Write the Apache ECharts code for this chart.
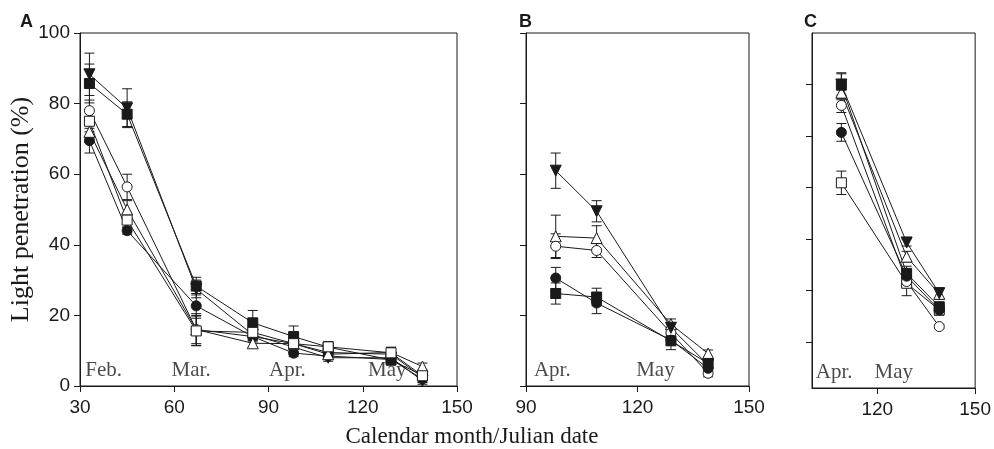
<!DOCTYPE html>
<html>
<head>
<meta charset="utf-8">
<script src="https://cdn.jsdelivr.net/npm/echarts@6/dist/echarts.min.js"></script>
<style>
  html, body { margin: 0; padding: 0; background: #fff; }
  #chart { width: 994px; height: 449px; }
</style>
</head>
<body>
<div id="chart"></div>
<script>
// julian days sampled in each panel
var daysA = [33, 45, 67, 85, 98, 109, 129, 139];
var daysB = [98, 109, 129, 139];
var daysC = [109, 129, 139];

// panel A: means and error (+/-)
var aDownTri = [88.3, 78.7, 27.5, 14.5, 11.0, 8.0, 8.0, 1.5];
var aDownTriErr = [6, 5.5, 2.5, 1.5, 1.5, 1, 1.5, 1];
var aFillSq = [85.7, 77.0, 28.3, 17.9, 14.0, 11.0, 7.4, 3.0];
var aFillSqErr = [5.5, 3.5, 2.5, 3.5, 3, 1.5, 1.5, 1];
var aOpenCirc = [78.0, 56.4, 16.0, 14.0, 12.0, 9.5, 9.0, 2.5];
var aOpenCircErr = [3, 3.6, 4.5, 1.5, 1.5, 1.5, 1.5, 1];
var aOpenSq = [75.0, 47.0, 15.6, 15.2, 12.0, 11.1, 9.4, 2.9];
var aOpenSqErr = [3, 2, 4.2, 1.5, 1.5, 1.5, 1.5, 1];
var aOpenTri = [72.0, 50.0, 16.0, 12.1, 12.0, 9.0, 9.5, 5.5];
var aOpenTriErr = [3, 2.5, 4, 1, 1.5, 1, 1.5, 1];
var aFillCirc = [69.5, 44.0, 22.7, 14.0, 9.3, 8.5, 7.5, 2.0];
var aFillCircErr = [3.5, 1, 3.5, 1, 1, 1, 1, 1];

// panel B
var bDownTri = [61.0, 49.5, 16.5, 6.0];
var bDownTriErr = [5, 3, 1.5, 1];
var bOpenTri = [42.4, 41.9, 17.5, 9.2];
var bOpenTriErr = [6, 3.5, 1.5, 1];
var bOpenCirc = [39.6, 38.4, 15.0, 3.6];
var bOpenCircErr = [3.5, 2, 1.5, 1];
var bFillCirc = [30.6, 23.5, 13.0, 5.0];
var bFillCircErr = [3, 3, 1.5, 1];
var bFillSq = [26.2, 25.2, 12.8, 6.4];
var bFillSqErr = [3, 2.5, 2.5, 1.5];

// panel C
var cDownTri = [85.5, 41.0, 26.7];
var cDownTriErr = [3, 1, 1.5];
var cFillSq = [85.3, 32.3, 22.9];
var cFillSqErr = [3.5, 2, 1];
var cOpenTri = [83.2, 37.0, 26.5];
var cOpenTriErr = [2, 1.5, 1.5];
var cOpenCirc = [79.6, 30.0, 17.3];
var cOpenCircErr = [2, 1.5, 0.5];
var cFillCirc = [72.0, 31.5, 22.0];
var cFillCircErr = [2.5, 1.5, 1];
var cOpenSq = [57.8, 29.5, 22.0];
var cOpenSqErr = [3.3, 3.5, 1.5];

// month labels (left edge at the day given)
var monthDaysA = [31.5, 59, 90, 121.5], monthNamesA = ['Feb.', 'Mar.', 'Apr.', 'May'];
var monthDaysB = [92, 119.5], monthNamesB = ['Apr.', 'May'];
var monthDaysC = [101, 119], monthNamesC = ['Apr.', 'May'];

// tick positions of panel C
var xTicksC = [120, 150];
var yTicksC = [13, 27.5, 42, 56.5, 71, 85.5];

var ink = '#1a1a1a', serif = '"Liberation Serif", "DejaVu Serif", serif', sans = '"Liberation Sans", Arial, sans-serif';

var markers = {
  downTri: {symbol: 'triangle', rotate: 180, size: 11, fill: ink},
  fillSq: {symbol: 'rect', rotate: 0, size: 10, fill: ink},
  openCirc: {symbol: 'circle', rotate: 0, size: 10, fill: '#fff'},
  openSq: {symbol: 'rect', rotate: 0, size: 10, fill: '#fff'},
  openTri: {symbol: 'triangle', rotate: 0, size: 11, fill: '#fff'},
  fillCirc: {symbol: 'circle', rotate: 0, size: 10, fill: ink}
};

// later entries are drawn on top
var panels = [
  {days: daysA, months: monthDaysA, names: monthNamesA, sets: [
    ['openCirc', aOpenCirc, aOpenCircErr], ['fillCirc', aFillCirc, aFillCircErr], ['downTri', aDownTri, aDownTriErr],
    ['fillSq', aFillSq, aFillSqErr], ['openTri', aOpenTri, aOpenTriErr], ['openSq', aOpenSq, aOpenSqErr]
  ]},
  {days: daysB, months: monthDaysB, names: monthNamesB, sets: [
    ['openTri', bOpenTri, bOpenTriErr], ['openCirc', bOpenCirc, bOpenCircErr], ['fillCirc', bFillCirc, bFillCircErr],
    ['fillSq', bFillSq, bFillSqErr], ['downTri', bDownTri, bDownTriErr]
  ]},
  {days: daysC, months: monthDaysC, names: monthNamesC, sets: [
    ['openSq', cOpenSq, cOpenSqErr], ['openCirc', cOpenCirc, cOpenCircErr], ['fillCirc', cFillCirc, cFillCircErr],
    ['openTri', cOpenTri, cOpenTriErr], ['downTri', cDownTri, cDownTriErr], ['fillSq', cFillSq, cFillSqErr]
  ]}
];

function renderErrBar(params, api){
  var x = api.value(0),
    lo = api.coord([x, api.value(1)]),
    hi = api.coord([x, api.value(2)]),
    w = 5, st = {stroke: ink, lineWidth: 1};
  return {
    type: 'group',
    children: [
      {type: 'line', shape: {x1: lo[0], y1: lo[1], x2: hi[0], y2: hi[1]}, style: st},
      {type: 'line', shape: {x1: lo[0] - w, y1: lo[1], x2: lo[0] + w, y2: lo[1]}, style: st},
      {type: 'line', shape: {x1: hi[0] - w, y1: hi[1], x2: hi[0] + w, y2: hi[1]}, style: st}
    ]
  };
}

function axisX(i, min, max){
  return {
    type: 'value', gridIndex: i, min: min, max: max, interval: 30,
    axisLine: {lineStyle: {color: ink, width: 1}},
    axisTick: {inside: false, length: 6, lineStyle: {color: ink}},
    axisLabel: {color: ink, fontFamily: sans, fontSize: 19, margin: 12},
    splitLine: {show: false}
  };
}

function axisY(i){
  return {
    type: 'value', gridIndex: i, min: 0, max: 100, interval: 20,
    axisLine: {show: true, lineStyle: {color: ink, width: 1}},
    axisTick: {show: true, inside: false, length: 6, lineStyle: {color: ink}},
    axisLabel: {show: i === 0, color: ink, fontFamily: sans, fontSize: 19, margin: 10},
    splitLine: {show: false}
  };
}

var grids = [
  {left: 80, top: 33, width: 377, height: 353},
  {left: 526, top: 33, width: 223, height: 353},
  {left: 812, top: 33, width: 166, height: 355}
].map(function(g){
  g.show = true; g.borderColor = ink; g.borderWidth = 1; g.backgroundColor = 'transparent';
  return g;
});

var xAxes = [axisX(0, 30, 150), axisX(1, 90, 150), axisX(2, 100, 150)];
delete xAxes[2].interval;
xAxes[2].axisTick.customValues = xTicksC;
xAxes[2].axisLabel.customValues = xTicksC;

var yAxes = [axisY(0), axisY(1), axisY(2)];
yAxes[0].name = 'Light penetration (%)';
yAxes[0].nameLocation = 'middle';
yAxes[0].nameGap = 44;
yAxes[0].nameTextStyle = {fontFamily: serif, fontSize: 26, color: ink};
delete yAxes[2].interval;
yAxes[2].axisTick.customValues = yTicksC;

var series = [];
panels.forEach(function(p, i){
  p.sets.forEach(function(s){
    var vals = s[1], err = s[2];
    series.push({
      type: 'custom', xAxisIndex: i, yAxisIndex: i, z: 2, silent: true,
      renderItem: renderErrBar,
      encode: {x: 0, y: [1, 2]},
      data: p.days.map(function(d, k){ return [d, vals[k] - err[k], vals[k] + err[k]]; })
    });
  });
  p.sets.forEach(function(s){
    var m = markers[s[0]], vals = s[1];
    series.push({
      type: 'line', xAxisIndex: i, yAxisIndex: i, z: 3, silent: true,
      symbol: m.symbol, symbolSize: m.size, symbolRotate: m.rotate, showAllSymbol: true,
      lineStyle: {color: ink, width: 1},
      itemStyle: {color: m.fill, borderColor: ink, borderWidth: 1},
      data: p.days.map(function(d, k){ return [d, vals[k]]; })
    });
  });
  series.push({
    type: 'scatter', xAxisIndex: i, yAxisIndex: i, z: 1, silent: true,
    symbolSize: 1, itemStyle: {color: 'transparent'},
    label: {
      show: true, position: 'right', distance: 0, color: ink, fontFamily: serif, fontSize: 21,
      formatter: function(q){ return q.data[2]; }
    },
    data: p.months.map(function(d, k){ return [d, 4.5, p.names[k]]; })
  });
});

var titleStyle = {fontFamily: sans, fontWeight: 'bold', fontSize: 18, color: ink};
var option = {
  animation: false,
  title: [
    {text: 'A', left: 20, top: 13, padding: 0, textStyle: titleStyle},
    {text: 'B', left: 519, top: 13, padding: 0, textStyle: titleStyle},
    {text: 'C', left: 804, top: 13, padding: 0, textStyle: titleStyle},
    {text: 'Calendar month/Julian date', left: 472, top: 425, padding: 0, textAlign: 'center',
      textStyle: {fontFamily: serif, fontWeight: 'normal', fontSize: 23, color: ink}}
  ],
  grid: grids,
  xAxis: xAxes,
  yAxis: yAxes,
  series: series
};

var chartDom = echarts.init(document.getElementById('chart'));
chartDom.setOption(option);
</script>
</body>
</html>
